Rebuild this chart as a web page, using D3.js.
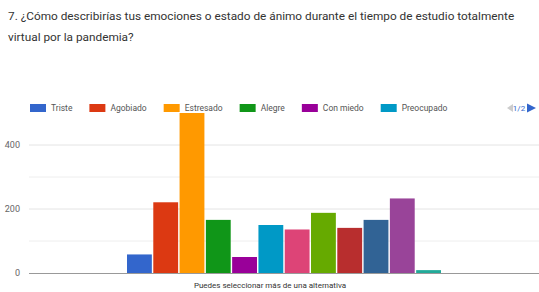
<!DOCTYPE html>
<html>
<head>
<meta charset="utf-8">
<script src="https://cdn.jsdelivr.net/npm/d3@7"></script>
<style>
  body { margin: 0; background: #fff; }
  svg { display: block; }
</style>
</head>
<body>
<div id="chart"></div>
<script>
// question text
const titleLines = [
  "7. ¿Cómo describirías tus emociones o estado de ánimo durante el tiempo de estudio totalmente",
  "virtual por la pandemia?"
];

// answers (only first 6 are shown in legend page 1/2)
const categories = [
  "Triste", "Agobiado", "Estresado", "Alegre", "Con miedo", "Preocupado",
  "Ansioso", "Tranquilo", "Frustrado", "Desmotivado", "Aburrido", "Otro"
];
const counts = [58, 221, 500, 166, 50, 150, 136, 188, 141, 166, 233, 9];
const colors = [
  "#3366cc", "#dc3912", "#ff9900", "#109618", "#990099", "#0099c6",
  "#dd4477", "#66aa00", "#b82e2e", "#316395", "#994499", "#22aa99"
];
const yTicks = [0, 200, 400];
const yGrid = [100, 200, 300, 400];
const xLabel = "Puedes seleccionar más de una alternativa";
const legendCount = 6;

const width = 539, height = 292;
const svg = d3.select("#chart").append("svg")
  .attr("width", width).attr("height", height);

// title
svg.selectAll("text.title")
  .data(titleLines)
  .join("text")
  .attr("class", "title")
  .attr("x", 8)
  .attr("y", (d, i) => 20 + i * 21)
  .attr("font-family", "Roboto, sans-serif")
  .attr("font-size", "11.8px")
  .attr("fill", "#333")
  .text(d => d);

// scales
const y = d3.scaleLinear().domain([0, 500]).range([273, 113]);
const x = d3.scaleBand().domain(categories).range([127, 441]).paddingInner(0.055);

// grid
svg.selectAll("line.grid")
  .data(yGrid)
  .join("line")
  .attr("x1", 29).attr("x2", 539)
  .attr("y1", d => y(d)).attr("y2", d => y(d))
  .attr("stroke", d => d % 200 === 0 ? "#e4e4e4" : "#eeeeee")
  .attr("stroke-width", 1);

// y tick labels
svg.selectAll("text.ytick")
  .data(yTicks)
  .join("text")
  .attr("class", "ytick")
  .attr("x", 20)
  .attr("y", d => y(d) + 3)
  .attr("text-anchor", "end")
  .attr("font-family", "Roboto, sans-serif")
  .attr("font-size", "9px")
  .attr("fill", "#666")
  .text(d => d);

// bars
svg.selectAll("rect.bar")
  .data(counts)
  .join("rect")
  .attr("class", "bar")
  .attr("x", (d, i) => x(categories[i]))
  .attr("y", d => y(d))
  .attr("width", x.bandwidth())
  .attr("height", d => y(0) - y(d))
  .attr("fill", (d, i) => colors[i]);

// baseline
svg.append("line")
  .attr("x1", 29).attr("x2", 539)
  .attr("y1", y(0) + 0.5).attr("y2", y(0) + 0.5)
  .attr("stroke", "#999").attr("stroke-width", 1.2);

// x label
svg.append("text")
  .attr("x", 270)
  .attr("y", 288)
  .attr("text-anchor", "middle")
  .attr("font-family", "Roboto, sans-serif")
  .attr("font-size", "8px")
  .attr("fill", "#333")
  .text(xLabel);

// legend (page 1/2)
const legend = svg.append("g").attr("class", "legend");
let lx = 30;
categories.slice(0, legendCount).forEach((c, i) => {
  legend.append("rect")
    .attr("x", lx).attr("y", 104)
    .attr("width", 16).attr("height", 8)
    .attr("fill", colors[i]);
  const t = legend.append("text")
    .attr("x", lx + 21).attr("y", 111)
    .attr("font-family", "Roboto, sans-serif")
    .attr("font-size", "8.5px")
    .attr("fill", "#555")
    .text(c);
  lx += 21 + t.node().getComputedTextLength() + 17;
});

// pager
legend.append("path")
  .attr("d", "M507,108 L513,104 L513,112 Z")
  .attr("fill", "#ccc");
legend.append("text")
  .attr("x", 519).attr("y", 111)
  .attr("text-anchor", "middle")
  .attr("font-family", "Roboto, sans-serif")
  .attr("font-size", "8px")
  .attr("fill", "#3366cc")
  .text("1/2");
legend.append("path")
  .attr("d", "M527,103.5 L536,108 L527,112.5 Z")
  .attr("fill", "#3366cc");
</script>
</body>
</html>
